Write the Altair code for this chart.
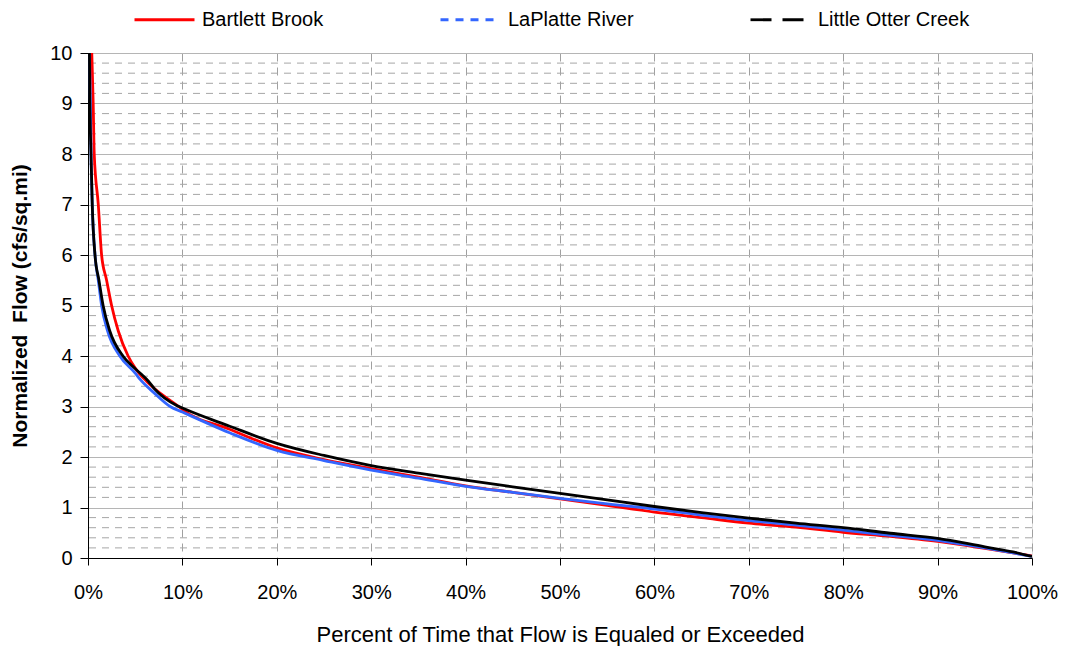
import altair as alt
import pandas as pd

SERIES = ["Bartlett Brook", "LaPlatte River", "Little Otter Creek"]
COLORS = ["#ff0000", "#3366ff", "#000000"]
DASHES = [[1, 0], [8, 7], [21, 11]]
WIDTHS = [2.8, 2.8, 3.5]

# Bartlett Brook (red)
BB_PCT = [0, 0.4, 0.55, 0.66, 1.09, 1.44, 1.97, 2.5, 3.2, 4.25, 5, 6.2, 7, 9.6, 10,
          15, 20, 25, 30, 35, 40, 45, 50, 55, 60, 65, 70, 75, 80, 85, 90, 95, 98, 100]
BB_FLOW = [12, 10, 9, 8, 7, 6, 5.5, 5.0, 4.5, 4.0, 3.76, 3.5, 3.36, 3.0, 2.94,
           2.55, 2.18, 1.95, 1.77, 1.6, 1.43, 1.3, 1.17, 1.04, 0.91, 0.8, 0.69, 0.61,
           0.51, 0.43, 0.33, 0.19, 0.1, 0.04]

# LaPlatte River (blue)
LP_PCT = [0, 0.15, 0.25, 0.32, 0.45, 0.74, 1.09, 1.44, 2.07, 3.37, 5, 5.5, 7, 8.7, 10,
          15, 20, 25, 30, 35, 40, 45, 50, 55, 60, 65, 70, 75, 80, 85, 90, 95, 98, 100]
LP_FLOW = [12, 10, 9, 8, 7, 6, 5.5, 5.0, 4.5, 4.0, 3.66, 3.54, 3.27, 3.0, 2.89,
           2.48, 2.13, 1.93, 1.74, 1.58, 1.42, 1.3, 1.18, 1.07, 0.97, 0.85, 0.74, 0.65,
           0.55, 0.45, 0.35, 0.2, 0.1, 0.03]

# Little Otter Creek (black)
LO_PCT = [0, 0.15, 0.2, 0.32, 0.45, 0.74, 1.16, 1.6, 2.3, 3.7, 5, 6.4, 7, 9.4, 10,
          15, 20, 25, 30, 35, 40, 45, 50, 55, 60, 65, 70, 75, 80, 85, 90, 95, 98, 100]
LO_FLOW = [12, 10, 9, 8, 7, 6, 5.5, 5.0, 4.5, 4.0, 3.75, 3.5, 3.36, 3.02, 2.97,
           2.61, 2.27, 2.03, 1.83, 1.68, 1.54, 1.41, 1.28, 1.15, 1.02, 0.9, 0.79, 0.69,
           0.6, 0.49, 0.39, 0.22, 0.12, 0.03]

X_TICKS = [0, 10, 20, 30, 40, 50, 60, 70, 80, 90, 100]
Y_TICKS = [0, 1, 2, 3, 4, 5, 6, 7, 8, 9, 10]
Y_MINOR = [round(i * 0.2, 1) for i in range(1, 50) if i % 5 != 0]

rows = []
for name, pcts, flows in [(SERIES[0], BB_PCT, BB_FLOW),
                          (SERIES[1], LP_PCT, LP_FLOW),
                          (SERIES[2], LO_PCT, LO_FLOW)]:
    for i, (p, f) in enumerate(zip(pcts, flows)):
        rows.append({"series": name, "pct": p, "flow": f, "i": i})
df = pd.DataFrame(rows)
minor_df = pd.DataFrame({"flow": Y_MINOR})

FONT = "Liberation Sans"

legend = alt.Legend(
    orient="none", legendX=45, legendY=-65, direction="horizontal", title=None,
    symbolType="stroke", symbolSize=3600, symbolStrokeWidth=3,
    labelFontSize=20, labelFont=FONT, labelColor="black", labelOffset=6,
    columnPadding=110, symbolOpacity=1,
)

x_enc = alt.X(
    "pct:Q",
    scale=alt.Scale(domain=[0, 100], nice=False),
    axis=alt.Axis(
        values=X_TICKS, labelExpr="datum.value + '%'", labelFlush=False,
        title="Percent of Time that Flow is Equaled or Exceeded",
        tickSize=7, labelPadding=17, titlePadding=22, labelFontSize=20, titleFontSize=22,
        titleFontWeight="normal", grid=True, gridDash=[8, 6], gridColor="#a0a0a0",
        domainColor="black", tickColor="black", labelColor="black", titleColor="black",
        labelFont=FONT, titleFont=FONT,
    ),
)
y_enc = alt.Y(
    "flow:Q",
    scale=alt.Scale(domain=[0, 10], nice=False),
    axis=alt.Axis(
        values=Y_TICKS, title="Normalized\u00a0 Flow (cfs/sq.mi)", tickSize=8,
        labelPadding=8, titlePadding=19, labelFontSize=20, titleFontSize=21,
        titleFontWeight="bold", grid=True, gridColor="#b5b5b5",
        domainColor="black", tickColor="black", labelColor="black", titleColor="black",
        labelFont=FONT, titleFont=FONT,
    ),
)
color_enc = alt.Color("series:N", scale=alt.Scale(domain=SERIES, range=COLORS), legend=legend)

minor = alt.Chart(minor_df).mark_rule(color="#a6a6a6", strokeDash=[7, 6], strokeWidth=1).encode(
    y=alt.Y("flow:Q")
)

lines = alt.Chart(df).mark_line(interpolate="monotone", clip=True).encode(
    x=x_enc,
    y=y_enc,
    color=color_enc,
    strokeWidth=alt.StrokeWidth("series:N", scale=alt.Scale(domain=SERIES, range=WIDTHS), legend=None),
    order="i:Q",
)

legend_layer = alt.Chart(df).mark_line(opacity=0, clip=True).encode(
    x="pct:Q",
    y="flow:Q",
    color=color_enc,
    strokeDash=alt.StrokeDash("series:N", scale=alt.Scale(domain=SERIES, range=DASHES), legend=legend),
    order="i:Q",
)

chart = alt.layer(minor, lines, legend_layer).properties(
    width=944, height=505,
    autosize=alt.AutoSizeParams(type="none"),
    padding={"left": 80, "top": 45, "right": 26, "bottom": 88},
).configure_view(stroke="#a0a0a0", strokeWidth=1).configure(background="white")

chart.save("out.html", embed_options={"renderer": "svg", "actions": False})
